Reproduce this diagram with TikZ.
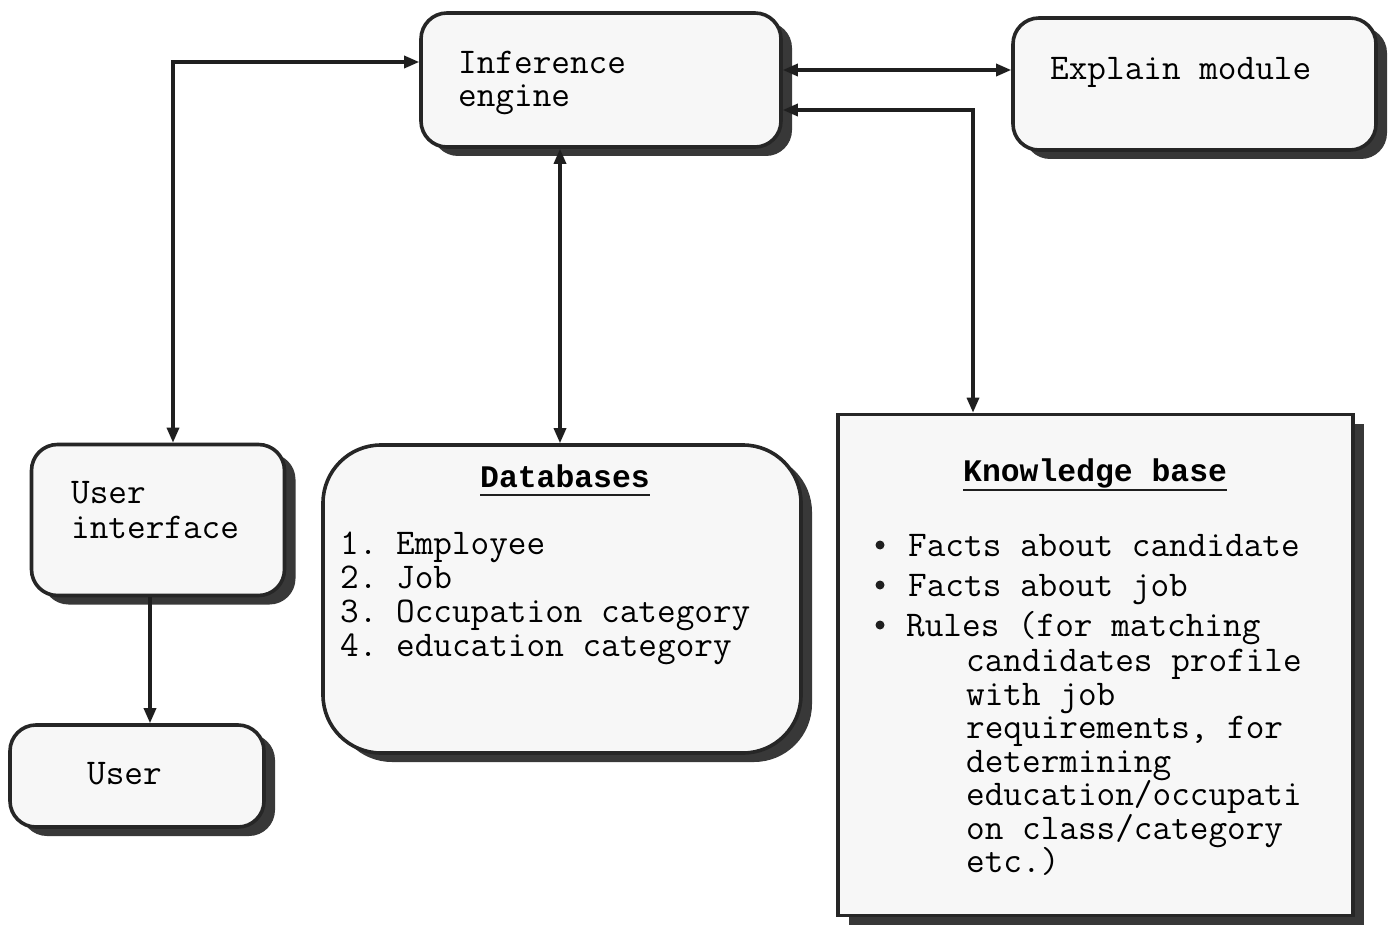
\documentclass[tikz,border=0pt]{standalone}
\usepackage{fontspec}
\setmonofont{Latin Modern Mono}
\newfontfamily\headingfont{Liberation Mono}
\usetikzlibrary{arrows.meta,shadows}
\tikzset{
  box/.style={draw=black!85, line width=3.6pt, fill=black!3, rounded corners=26pt,
    drop shadow={shadow xshift=11pt, shadow yshift=-9pt, fill=black!78, opacity=1}},
  bigbox/.style={box, rounded corners=58pt},
  sqbox/.style={box, rounded corners=0pt},
  txt/.style={anchor=base west, inner sep=0pt, font=\fontsize{36.2}{36}\selectfont\ttfamily},
  head/.style={txt, font=\fontsize{31.4}{33}\selectfont\headingfont\bfseries},
  link/.style={line width=3.2pt, draw=black!88},
  uline/.style={line width=2.6pt, draw=black!88},
  dot/.style={fill=black!88},
}
\begin{document}
\begin{tikzpicture}[x=1pt, y=-1pt, >={Triangle[length=15pt,width=12pt]}]
  \fill[white] (0,0) rectangle (1398,931);
  \useasboundingbox (0,0) rectangle (1398,931);

  % boxes
  \node[box, minimum width=360pt, minimum height=134pt] (ie) at (601,80) {};
  \node[box, minimum width=363pt, minimum height=132pt] (ex) at (1194.5,84) {};
  \node[box, minimum width=253pt, minimum height=151pt] (ui) at (158,520) {};
  \node[box, minimum width=254pt, minimum height=102pt] (user) at (137,776) {};
  \node[bigbox, minimum width=478pt, minimum height=308pt] (db) at (562,599) {};
  \node[sqbox, minimum width=515pt, minimum height=501pt] (kb) at (1095.5,665) {};

  % inference engine
  \node[txt] (ie1) at (458,74) {Inference};
  \node[txt] (ie2) at (458,107) {engine};

  % explain module
  \node[txt] (ex1) at (1050,80) {Explain module};

  % user interface and user
  \node[txt] (ui1) at (71,503) {User};
  \node[txt] (ui2) at (71,538) {interface};
  \node[txt] (us1) at (87,784) {User};

  % databases
  \node[head] (dbh) at (480,487) {Databases};
  \draw[uline] ([yshift=-8pt]dbh.base west) -- ([yshift=-8pt]dbh.base east);
  \node[txt] (db1) at (340,554) {1. Employee};
  \node[txt] (db2) at (340,588) {2. Job};
  \node[txt] (db3) at (340,622) {3. Occupation category};
  \node[txt] (db4) at (340,656) {4. education category};

  % knowledge base
  \node[head] (kbh) at (963,481) {Knowledge base};
  \draw[uline] ([yshift=-9pt]kbh.base west) -- ([yshift=-9pt]kbh.base east);
  \fill[dot] (880,545) circle (4.5pt);
  \fill[dot] (880,585) circle (4.5pt);
  \fill[dot] (880,625) circle (4.5pt);
  \node[txt] (kb1) at (908,556) {Facts about candidate};
  \node[txt] (kb2) at (908,596) {Facts about job};
  \node[txt] (kb3) at (906,636) {Rules (for matching};
  \node[txt] (kb4) at (966,671) {candidates profile};
  \node[txt] (kb5) at (966,705) {with job};
  \node[txt] (kb6) at (966,738) {requirements, for};
  \node[txt] (kb7) at (966,772) {determining};
  \node[txt] (kb8) at (966,805) {education/occupati};
  \node[txt] (kb9) at (966,839) {on class/category};
  \node[txt] (kb10) at (966,872) {etc.)};

  % connectors
  \draw[link, <->] (ie.west |- 0,62) -| (ui.north -| 173,0);
  \draw[link, <->] (ie.east |- 0,70) -- (ex.west |- 0,70);
  \draw[link, <->] (ie.east |- 0,110) -| (kb.north -| 973,0);
  \draw[link, <->] (ie.south -| 560,0) -- (db.north -| 560,0);
  \draw[link, ->] (ui.south -| 150,0) -- (user.north -| 150,0);
\end{tikzpicture}
\end{document}
